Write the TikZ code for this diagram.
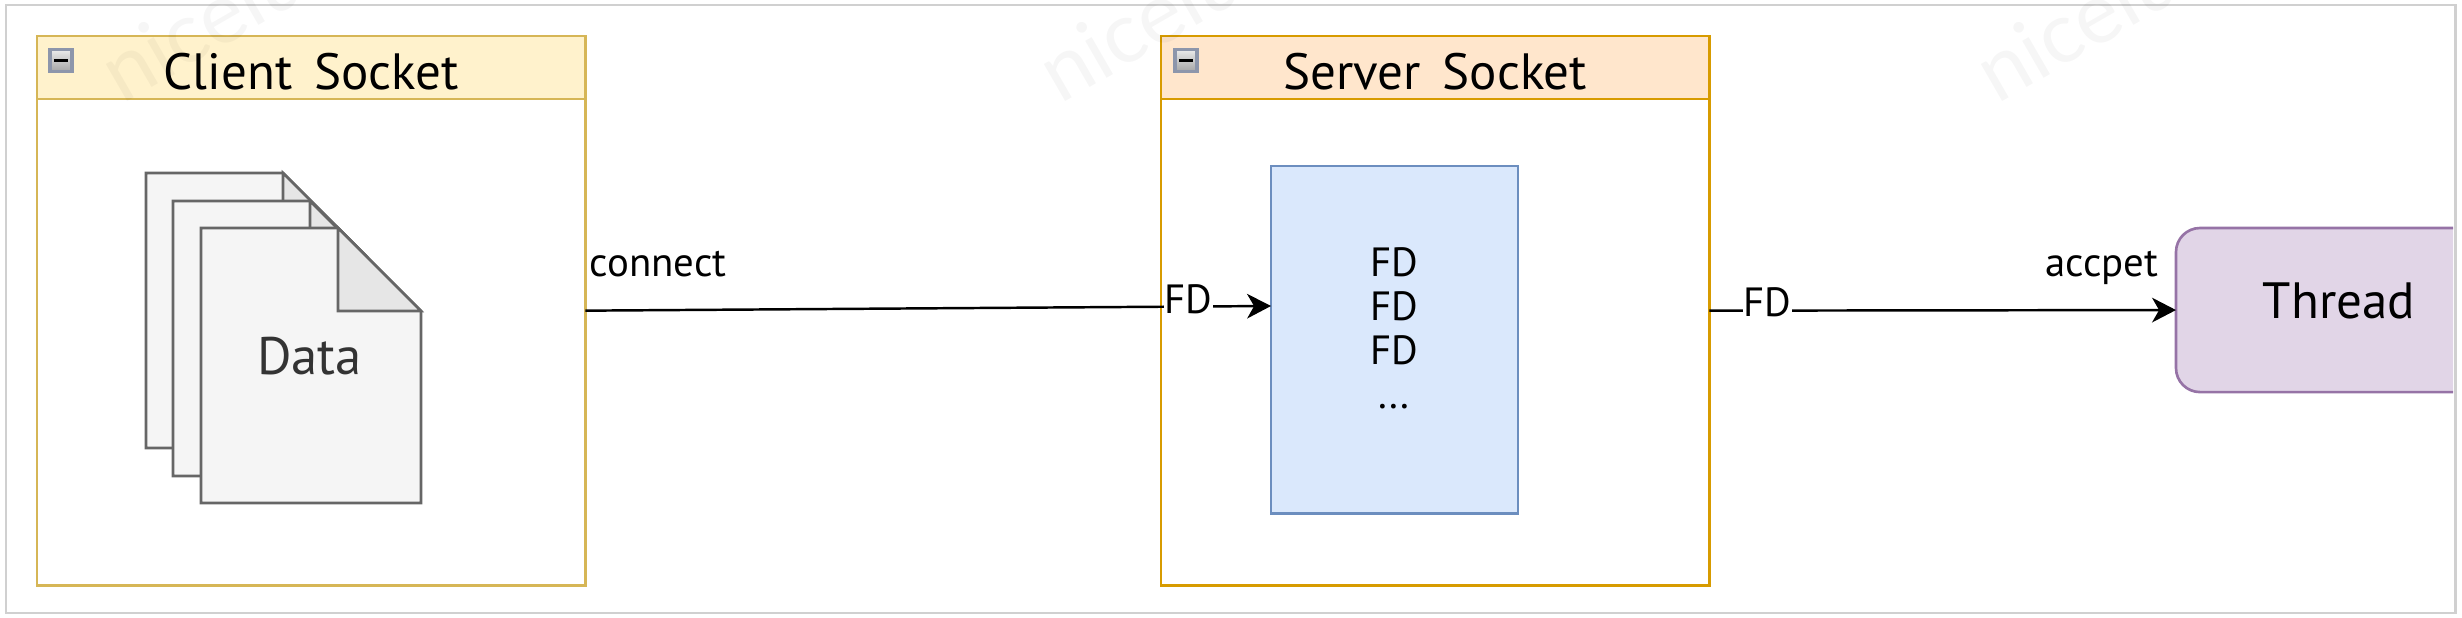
\documentclass[tikz,border=0pt]{standalone}
\usepackage{fontspec}
\setmainfont[WordSpace=1.6]{PT Sans}
\newfontfamily\markfont{Lato}
\usetikzlibrary{arrows.meta}
\definecolor{clientfill}{HTML}{FFF2CC}
\definecolor{clientline}{HTML}{D6B656}
\definecolor{serverfill}{HTML}{FFE6CC}
\definecolor{serverline}{HTML}{D79B00}
\definecolor{listfill}{HTML}{DAE8FC}
\definecolor{listline}{HTML}{6C8EBF}
\definecolor{threadfill}{HTML}{E1D5E7}
\definecolor{threadline}{HTML}{9673A6}
\definecolor{pagefill}{HTML}{F5F5F5}
\definecolor{pageline}{HTML}{666666}
\definecolor{foldfill}{HTML}{E6E6E6}
\definecolor{frameline}{HTML}{D0D0D0}
\definecolor{toggleline}{HTML}{8D96AB}
\tikzset{
  box/.style={draw,line width=.75pt,inner sep=0pt,outer sep=0pt,anchor=north west},
  swim/.style={box,minimum width=5.48cm,minimum height=5.49cm,fill=white},
  swimhead/.style={box,minimum width=5.48cm,minimum height=.63cm,
    text height=12.6pt,text depth=0pt,font=\fontsize{14.5}{16}\selectfont},
  toggle/.style={draw=toggleline,line width=.9pt,top color=white!92!black,bottom color=black!35,
    minimum size=.22cm,inner sep=0pt},
  small/.style={font=\fontsize{11.6}{12.5}\selectfont},
  edgelabel/.style={small,fill=white,inner sep=.2pt},
  link/.style={line width=.7pt,-{Stealth[length=6.8pt,width=7pt,inset=2pt]}},
  pagesheet/.style={draw=pageline,fill=pagefill,line width=.75pt,line join=miter},
  pagefold/.style={draw=pageline,fill=foldfill,line width=.75pt},
  wmark/.style={text=black,text opacity=.035,rotate=30,anchor=base west,inner sep=0pt,
    font=\fontsize{24}{24}\selectfont\markfont},
}
\begin{document}
\begin{tikzpicture}[x=.01cm,y=-.01cm]
  \useasboundingbox (0,0) rectangle (2462,618);
  % client socket
  \node[swim,draw=clientline] (client) at (37,36) {};
  \node[swimhead,draw=clientline,fill=clientfill] (clienthead) at (37,36) {Client Socket};
  \node[toggle] (clienttoggle) at (61,60.5) {};
  \draw[line width=.9pt] (clienttoggle.center) ++(-7,0) -- ++(14,0);
  % three sheets, back one first
  \foreach \px/\py in {146/173,173/201,201/228} {
    \draw[pagesheet] (\px,\py) -- ++(137,0) -- ++(83,83) -- ++(0,192) -- ++(-220,0) -- cycle;
    \draw[pagefold] (\px+137,\py) -- ++(83,83) -- ++(-83,0) -- cycle;
  }
  \node[text=black!80,font=\fontsize{15}{16}\selectfont] (data) at (309.5,356) {Data};
  % server socket
  \node[swim,draw=serverline] (server) at (1161,36) {};
  \node[swimhead,draw=serverline,fill=serverfill] (serverhead) at (1161,36) {Server Socket};
  \node[toggle] (servertoggle) at (1186,60.5) {};
  \draw[line width=.9pt] (servertoggle.center) ++(-7,0) -- ++(14,0);
  \node[box,draw=listline,fill=listfill,minimum width=2.47cm,minimum height=3.47cm] (fdlist) at (1271,166) {};
  \node[small,align=center] (fdtext) at (1394,328) {FD\\FD\\FD\\...};
  % thread runs past the frame
  \begin{scope}
    \clip (0,0) rectangle (2453,618);
    \node[box,draw=threadline,fill=threadfill,rounded corners=.24cm,minimum width=3.26cm,
      minimum height=1.64cm] (thread) at (2176,228) {};
  \end{scope}
  \node[font=\fontsize{14.5}{16}\selectfont] (threadtext) at (2339,301) {Thread};
  \draw[frameline,line width=.85pt] (6,5) rectangle (2455,613);
  % links
  \coordinate (fdin) at (fdlist.west |- 0,306);
  \draw[link] (client.east) -- node[edgelabel,pos=.88,yshift=2pt] (fdleft) {FD} (fdin);
  \draw[link] (server.east) -- node[edgelabel,pos=.124,yshift=2.3pt] (fdright) {FD} (thread.west);
  \node[small,anchor=base] (connect) at (658,276) {connect};
  \node[small,anchor=base] (accpet) at (2102,276) {accpet};
  % watermark
  \begin{scope}
    \clip (0,0) rectangle (2462,618);
    \foreach \wx in {122,1060,1997}
      \node[wmark] (mark\wx) at (\wx,105) {nicelu};
  \end{scope}
\end{tikzpicture}
\end{document}
